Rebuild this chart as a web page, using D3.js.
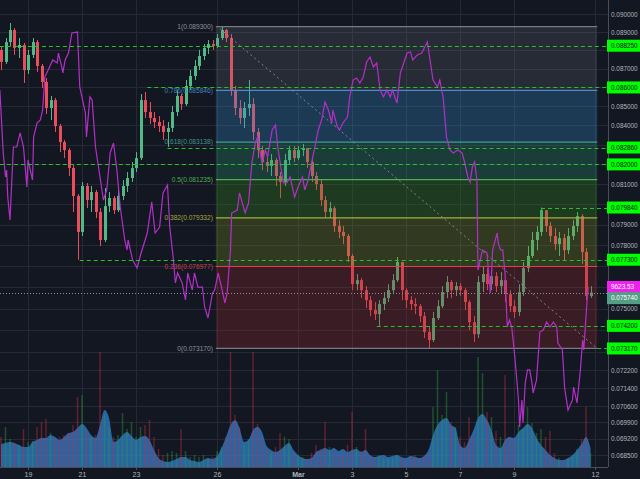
<!DOCTYPE html>
<html><head><meta charset="utf-8">
<script src="https://cdn.jsdelivr.net/npm/d3@7"></script>
<style>
html,body{margin:0;padding:0;background:#131722;overflow:hidden;}
svg{display:block;}
text{font-family:"Liberation Sans",Arial,sans-serif;}
</style></head><body>
<svg id="c" width="640" height="479"></svg>
<script>
// ---------- DATA ----------
const startUTC = Date.UTC(2018,1,18);   // first candle: Feb 18 00:00
const candleHours = 4;
const firstOpen = 0.08802;
const closes = [.08737,.08845,.08911,.08813,.08829,.08693,.08775,.08845,.08715,.08629,
.08491,.08533,.08397,.08314,.08273,.08182,.08041,.07864,.08091,.08021,
.08061,.07962,.07825,.07991,.08031,.07971,.08041,.08091,.08131,.08181,
.08232,.08533,.08470,.08439,.08418,.08397,.08366,.08387,.08470,.08555,
.08512,.08608,.08661,.08715,.08769,.08813,.08834,.08824,.08867,.08911,
.08867,.08586,.08491,.08439,.08491,.08512,.08366,.08273,.08212,.08192,
.08222,.08141,.08111,.08222,.08273,.08232,.08273,.08283,.08212,.08141,
.08101,.08021,.07962,.07981,.07893,.07864,.07844,.07748,.07614,.07633,
.07586,.07539,.07493,.07474,.07521,.07549,.07586,.07633,.07719,.07586,
.07539,.07521,.07511,.07465,.07392,.07355,.07456,.07511,.07577,.07624,
.07586,.07605,.07586,.07530,.07437,.07382,.07624,.07662,.07614,.07652,
.07605,.07633,.07567,.07511,.07484,.07577,.07690,.07748,.07825,.07864,
.07971,.07893,.07844,.07805,.07834,.07776,.07844,.07893,.07942,.07767,
.07558,.07574];
const highs = [.08818,.08867,.08950,.08922,.08867,.08840,.08802,.08867,.08856,.08726,
.08650,.08555,.08544,.08408,.08325,.08283,.08197,.08051,.08111,.08106,
.08091,.08071,.07981,.08081,.08061,.08041,.08071,.08121,.08161,.08212,
.08263,.08565,.08576,.08523,.08470,.08449,.08428,.08418,.08502,.08586,
.08565,.08640,.08693,.08747,.08802,.08834,.08856,.08856,.08889,.08930,
.08917,.08889,.08608,.08533,.08523,.08640,.08544,.08387,.08294,.08253,
.08253,.08232,.08161,.08253,.08294,.08294,.08294,.08304,.08283,.08232,
.08161,.08121,.08041,.08011,.07991,.07922,.07893,.07854,.07757,.07662,
.07643,.07605,.07558,.07530,.07539,.07577,.07614,.07662,.07743,.07719,
.07595,.07558,.07549,.07521,.07484,.07419,.07484,.07539,.07605,.07652,
.07633,.07624,.07619,.07595,.07539,.07465,.07652,.07700,.07690,.07681,
.07671,.07671,.07633,.07586,.07539,.07614,.07719,.07796,.07864,.07893,
.07984,.07971,.07912,.07883,.07864,.07854,.07883,.07922,.07962,.07952,
.07786,.07605];
const lows = [.08693,.08726,.08824,.08775,.08758,.08624,.08672,.08758,.08683,.08597,
.08460,.08428,.08366,.08263,.08232,.08141,.07962,.07730,.07844,.07981,
.07962,.07932,.07796,.07815,.07962,.07952,.07962,.08021,.08061,.08111,
.08161,.08222,.08439,.08408,.08387,.08366,.08325,.08289,.08366,.08449,
.08481,.08502,.08586,.08640,.08693,.08747,.08780,.08802,.08813,.08856,
.08845,.08555,.08454,.08408,.08387,.08449,.08325,.08232,.08171,.08161,
.08141,.08091,.08031,.08091,.08202,.08212,.08222,.08242,.08182,.08111,
.08071,.07991,.07932,.07932,.07864,.07834,.07805,.07719,.07586,.07586,
.07549,.07502,.07465,.07447,.07420,.07493,.07530,.07567,.07624,.07539,
.07502,.07493,.07474,.07437,.07364,.07317,.07346,.07447,.07502,.07549,
.07549,.07558,.07558,.07493,.07401,.07346,.07364,.07577,.07586,.07586,
.07577,.07567,.07530,.07484,.07456,.07465,.07558,.07671,.07738,.07776,
.07844,.07864,.07815,.07776,.07748,.07728,.07757,.07825,.07864,.07709,
.07539,.07549];
const volumes = [30,40,28,24,22,38,25,26,40,45, 48,34,28,30,32,34,42,70,72,36,
30,32,115,52,40,30,32,54,38,45, 30,40,42,47,30,18,12,14,16,14,
38,16,10,12,10,12,8,10,16,20, 30,115,52,40,22,28,115,43,30,18,
14,20,34,30,28,14,12,10,8,14, 22,18,45,20,16,12,14,22,55,20,
16,38,12,9,12,9,8,9,12,9, 7,9,12,8,10,14,60,97,52,75,
45,40,30,25,50,30,110,94,55,50, 36,30,92,30,28,42,38,60,44,34,
38,30,36,14,9,7,9,12,18,28, 60,14];
const volumeAvg = [23,24,25,24,22,20,20,25,27,29, 29,32,30,27,30,34,35,39,43,39,
32,29,42,57,49,25,27,32,35,31, 27,30,31,27,17,9,6,5,6,8,
10,10,7,6,5,7,9,8,11,19, 30,42,47,39,25,27,37,40,35,21,
17,15,17,21,24,17,12,9,8,9, 15,17,19,17,19,16,18,15,17,18,
15,17,12,10,11,12,10,11,12,10, 9,11,10,9,11,17,32,42,47,49,
42,39,22,19,27,37,49,53,47,37, 22,19,27,30,29,35,39,43,39,29,
22,17,12,9,7,7,9,12,17,23, 30,19];
// BTC overlay (hours after Feb 18 00:00, USD)
const btcHours = [-1,2,4,5,6,8,11,14,17,20,23,24,28,29,32,35,37,39,46,50,51,54,55,57,60,63,68,70,75,76,79,81,84,88,91,94,97,100,103,106,110,112,113,115,117,121,124,130,134,137,141,144,148,150,153,155,157,161,164,166,170,172,175,179,181,184,188,190,193,196,199,201,204,205,210,212,217,220,223,226,228,232,235,237,241,244,246,251,254,257,261,264,268,270,273,276,279,282,285,288,291,294,295,299,301,304,308,310,313,316,319,322,325,328,331,334,337,340,343,346,348,352,355,361,364,366,370,374,379,381,384,388,390,393,396,399,402,406,410,412,415,417,419,421,423,424,426,428,432,433,435,436,437,441,442,444,446,448,450,452,454,457,460,461,463,464,466,468,470,472,473,476,479,482,485,488,491,494,495,499,501,504,508,509,512,515,517,518,521,522];
const btcPrices = [11265,10740,10540,10598,10373,10182,10790,10790,10907,10790,10457,10682,10515,10873,10990,11015,11098,11373,11515,11490,11573,11457,11407,11515,11573,11740,11748,11290,11073,10873,11207,11182,10790,10540,10348,10432,10740,10823,10598,10290,10015,9932,10015,9932,9848,9782,9890,10073,10332,10073,10123,10407,10473,10123,9873,9657,9740,9657,9515,9740,9598,9740,9623,9623,9457,9365,9573,9598,9740,9623,9490,9573,9932,10240,10265,10407,10240,10323,10657,10823,10873,10657,10765,10707,10932,10973,10790,10490,10490,10540,10373,10457,10540,10432,10515,10657,10790,10932,11015,11165,11098,10990,11098,10957,10932,10990,11040,11207,11348,11365,11323,11373,11498,11540,11457,11490,11265,11207,11265,11207,11265,11157,11407,11573,11582,11515,11557,11573,11665,11540,11348,11290,11348,11207,10873,10765,10740,10765,10740,10665,10540,10498,10623,10665,10515,9765,9848,9932,9907,9790,9573,9707,9932,10073,9990,9932,9932,9740,9290,9348,9290,9015,8682,8457,8682,8490,8823,8932,8932,8823,8740,8848,9248,9265,9332,9290,9332,9290,9157,9098,8782,8598,8682,8790,8657,8932,9182,9098,9515,9623.53];
const btcLast = 9623.53;
const lastPrice = 0.07574;
const priceTicks = [0.090,0.089,0.088,0.087,0.086,0.085,0.084,0.083,0.082,0.081,0.080,0.079,0.078,0.077,0.076,0.075,0.074,0.073,0.0722,0.0714,0.0706,0.0699,0.0692,0.0685];
const dateTicks = [[2018,1,19],[2018,1,21],[2018,1,23],[2018,1,26],[2018,2,1],[2018,2,3],[2018,2,5],[2018,2,7],[2018,2,9],[2018,2,12]];
const dateLabels = ["19","21","23","26","Mar","3","5","7","9","12"];
const fibRatios = ["1","0.786","0.618","0.5","0.382","0.236","0"];
const fibPrices = [0.0893,0.085846,0.083138,0.081235,0.079332,0.076977,0.07317];
const fibHours = [191,530];
const alertPrices = [0.08825,0.086,0.08286,0.082,0.07984,0.0773,0.0742,0.07317];
const alertHours  = [-1,130,148,-1,480,70,334,530];

// ---------- STYLE ----------
const BG="#131722", GRID="#252935", AXIS="#4a4e5a", TXT="#b2b5be";
const UP="#53b987", DOWN="#eb4d5c";
const fibLine=["#787b86","#4a8cc4","#3a9e96","#4caf50","#a0b03a","#e0404a","#787b86"];
const fibText=["#8d909a","#3f82bf","#45948c","#4caf50","#a8a83c","#c8424d","#8d909a"];
const fibFill=["rgba(120,123,134,0.2)","rgba(52,140,204,0.3)","rgba(46,150,114,0.3)","rgba(56,140,34,0.3)","rgba(119,140,34,0.3)","rgba(149,43,44,0.3)"];
const FS="6.4px";

// ---------- SCALES ----------
const HOUR=3600000;
const tAt=h=>new Date(startUTC+h*HOUR);
const x=d3.scaleUtc().domain([new Date(Date.UTC(2018,1,19)),new Date(Date.UTC(2018,2,12))]).range([28,595]);
const y=d3.scaleLog().domain([0.0685,0.09]).range([455,14]);
const yBtc=d3.scaleLinear().domain([8000,12000]).range([481.8,1.8]);
const yVol=d3.scaleLinear().domain([0,120]).range([467,347]);
const PR=608, PB=467;

const svg=d3.select("#c");
svg.append("rect").attr("width",640).attr("height",479).attr("fill",BG);
svg.append("defs").append("clipPath").attr("id","pc").append("rect").attr("x",0).attr("y",0).attr("width",PR).attr("height",PB);
const plot=svg.append("g").attr("clip-path","url(#pc)");

// grid
const dts=dateTicks.map(d=>new Date(Date.UTC(d[0],d[1],d[2])));
plot.append("g").selectAll("line").data(priceTicks).join("line")
 .attr("x1",0).attr("x2",PR).attr("y1",d=>Math.round(y(d))+0.5).attr("y2",d=>Math.round(y(d))+0.5)
 .attr("stroke",GRID).attr("stroke-width",1);
plot.append("g").selectAll("line").data(dts).join("line")
 .attr("x1",d=>Math.round(x(d))+0.5).attr("x2",d=>Math.round(x(d))+0.5).attr("y1",0).attr("y2",PB)
 .attr("stroke",GRID).attr("stroke-width",1);

// candles data
const candles=closes.map((c,i)=>{
  const o=i===0?firstOpen:closes[i-1];
  return {t:tAt(i*candleHours),o,c,h:Math.max(highs[i],o,c),l:Math.min(lows[i],o,c),v:volumes[i],va:volumeAvg[i]};
});

// volume area
plot.append("path").datum(candles)
 .attr("d",d3.area().x(d=>x(d.t)).y0(PB).y1(d=>yVol(d.va)).curve(d3.curveMonotoneX))
 .attr("fill","#2f78c4").attr("fill-opacity",0.8);
// volume bars
plot.append("g").selectAll("rect").data(candles).join("rect")
 .attr("x",d=>x(d.t)-0.75).attr("width",1.5).attr("y",d=>yVol(d.v)).attr("height",d=>PB-yVol(d.v))
 .attr("fill",d=>d.c>=d.o?"#2aa040":"#c83240").attr("fill-opacity",0.42);

// candles
const cg=plot.append("g");
cg.selectAll("line").data(candles).join("line")
 .attr("x1",d=>Math.round(x(d.t))+0.5).attr("x2",d=>Math.round(x(d.t))+0.5)
 .attr("y1",d=>y(d.h)).attr("y2",d=>y(d.l))
 .attr("stroke",d=>d.c>=d.o?UP:DOWN).attr("stroke-width",1);
cg.selectAll("rect").data(candles).join("rect")
 .attr("x",d=>Math.round(x(d.t))-1).attr("width",3)
 .attr("y",d=>Math.min(y(d.o),y(d.c))).attr("height",d=>Math.max(1,Math.abs(y(d.o)-y(d.c))))
 .attr("fill",d=>d.c>=d.o?UP:DOWN);

// fib retracement
const fx0=x(tAt(fibHours[0])), fx1=x(tAt(fibHours[1]));
const fg=plot.append("g");
fg.selectAll("rect").data(fibPrices.slice(0,-1)).join("rect")
 .attr("x",fx0).attr("width",fx1-fx0)
 .attr("y",d=>y(d)).attr("height",(d,i)=>y(fibPrices[i+1])-y(d))
 .attr("fill",(d,i)=>fibFill[i]);
fg.selectAll("line").data(fibPrices).join("line")
 .attr("x1",fx0).attr("x2",fx1).attr("y1",d=>y(d)).attr("y2",d=>y(d))
 .attr("stroke",(d,i)=>fibLine[i]).attr("stroke-width",1.2);
fg.selectAll("text").data(fibPrices).join("text")
 .attr("x",fx0-3).attr("y",d=>y(d)).attr("dy","0.35em").attr("text-anchor","end")
 .attr("font-size","6.6px").attr("fill",(d,i)=>fibText[i])
 .text((d,i)=>fibRatios[i]+"("+d.toFixed(6)+")");
fg.append("line").attr("x1",fx0+4).attr("y1",y(fibPrices[0])+2).attr("x2",fx1).attr("y2",y(fibPrices[6]))
 .attr("stroke","#9598a1").attr("stroke-width",1).attr("stroke-dasharray","2,3").attr("stroke-opacity",0.8);

// BTC overlay line
const btc=btcHours.map((h,i)=>({t:tAt(h),v:btcPrices[i]})).filter(d=>d.v!==undefined);
plot.append("path").datum(btc)
 .attr("d",d3.line().x(d=>x(d.t)).y(d=>yBtc(d.v)))
 .attr("fill","none").attr("stroke","#b42fc8").attr("stroke-width",1.2);

// alert lines
plot.append("g").selectAll("line").data(alertPrices).join("line")
 .attr("x1",(d,i)=>x(tAt(alertHours[i]))).attr("x2",PR)
 .attr("y1",d=>Math.round(y(d))+0.5).attr("y2",d=>Math.round(y(d))+0.5)
 .attr("stroke","#22c322").attr("stroke-width",1).attr("stroke-dasharray","4,3");
// last price line
plot.append("line").attr("x1",0).attr("x2",PR).attr("y1",Math.round(y(lastPrice))+0.5).attr("y2",Math.round(y(lastPrice))+0.5)
 .attr("stroke","#8a8d96").attr("stroke-width",1).attr("stroke-dasharray","1,2");

// label positions on the price axis (tags hide the plain ticks beneath them)
const tagYs=alertPrices.map(p=>y(p)).concat([yBtc(btcLast), y(lastPrice)+5.5]);
const visibleTicks=priceTicks.filter(t=>tagYs.every(ty=>Math.abs(y(t)-ty)>6.5));

// axes
svg.append("line").attr("x1",PR+0.5).attr("x2",PR+0.5).attr("y1",0).attr("y2",PB).attr("stroke",AXIS);
svg.append("line").attr("x1",0).attr("x2",PR).attr("y1",PB+0.5).attr("y2",PB+0.5).attr("stroke",AXIS);
const ya=svg.append("g").attr("transform",`translate(${PR},0)`)
 .call(d3.axisRight(y).tickValues(visibleTicks).tickFormat(d3.format(".6f")).tickSize(0).tickPadding(3));
ya.select(".domain").remove();
ya.selectAll("text").attr("fill",TXT).attr("font-size",FS).attr("font-family","Liberation Sans, Arial, sans-serif");
const xa=svg.append("g").attr("transform",`translate(0,${PB})`)
 .call(d3.axisBottom(x).tickValues(dts).tickFormat((d,i)=>dateLabels[i]).tickSize(3).tickPadding(2));
xa.select(".domain").remove();
xa.selectAll("line").attr("stroke",AXIS);
xa.selectAll("text").attr("fill",TXT).attr("font-size","7px").attr("font-family","Liberation Sans, Arial, sans-serif")
 .attr("font-weight",(d,i)=>dateLabels[i]==="Mar"?"bold":"normal");

// price labels on axis
const lab=svg.append("g");
function tag(yy,txt,fill,col){
  lab.append("rect").attr("x",PR-1).attr("y",yy-6).attr("width",33).attr("height",12).attr("fill",fill);
  lab.append("text").attr("x",PR+3).attr("y",yy).attr("dy","0.35em").attr("font-size",FS).attr("fill",col).text(txt);
}
alertPrices.forEach(p=>tag(y(p),p.toFixed(6),"#00ff00","#0a0d14"));
tag(yBtc(btcLast),btcLast.toFixed(2),"#ee22ee","#ffffff");
tag(y(lastPrice)+5.5,lastPrice.toFixed(6),"#559e86","#ffffff");
</script>
</body></html>
